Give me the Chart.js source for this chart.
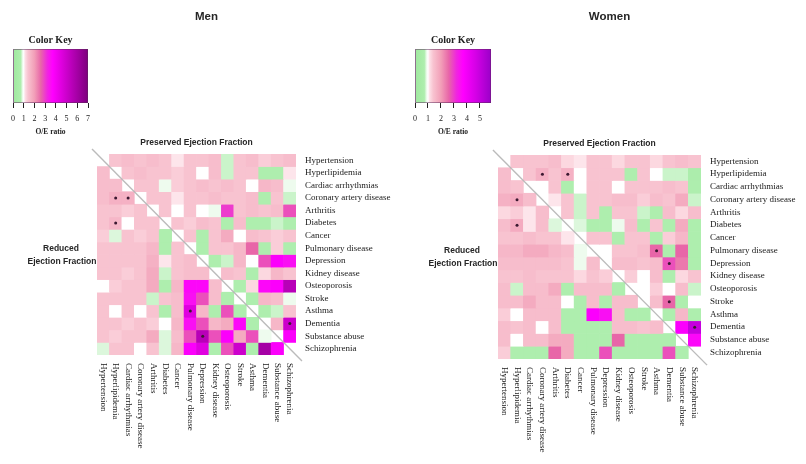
<!DOCTYPE html>
<html>
<head>
<meta charset="utf-8">
<script src="https://cdn.jsdelivr.net/npm/chart.js@4.4.1/dist/chart.umd.min.js"></script>
<style>
  html, body { margin: 0; padding: 0; background: #ffffff; }
  #wrap { position: relative; width: 806px; height: 464px; overflow: hidden; background: #fff; }
  canvas { position: absolute; }
</style>
</head>
<body>
<div id="wrap">
  <canvas id="menMap" width="403" height="464" style="left:0;top:0"></canvas>
  <canvas id="womenMap" width="403" height="464" style="left:403px;top:0"></canvas>
  <canvas id="menKey" width="110" height="110" style="left:0;top:30px"></canvas>
  <canvas id="womenKey" width="110" height="110" style="left:400px;top:30px"></canvas>
</div>
<script>
// Comorbidities, in row order (top to bottom) and column order (left to right)
const diseases = [
  'Hypertension', 'Hyperlipidemia', 'Cardiac arrhythmias', 'Coronary artery disease',
  'Arthritis', 'Diabetes', 'Cancer', 'Pulmonary disease', 'Depression', 'Kidney disease',
  'Osteoporosis', 'Stroke', 'Asthma', 'Dementia', 'Substance abuse', 'Schizophrenia'
];

// Observed/expected ratios. Above the diagonal: preserved EF; below: reduced EF.
const menOE = [
  [null, 1.4, 1.5, 1.4, 1.5, 1.4, 1.1, 1.4, 1.4, 1.5, 0.8, 1.4, 1.5, 1.3, 1.4, 1.5],
  [1.5, null, 1.4, 1.5, 1.4, 1.4, 1.3, 1.4, 1.0, 1.5, 0.8, 1.4, 1.4, 0.7, 0.7, 1.1],
  [1.5, 1.5, null, 1.4, 1.4, 0.9, 1.3, 1.4, 1.5, 1.4, 1.5, 1.4, 1.0, 1.6, 1.5, 0.9],
  [1.5, 1.7, 1.7, null, 1.4, 1.4, 1.1, 1.4, 1.4, 1.5, 1.4, 1.4, 1.5, 0.7, 1.4, 0.8],
  [1.4, 1.4, 1.3, 1.4, null, 1.4, 1.0, 1.4, 1.0, 0.9, 3.0, 1.4, 1.5, 1.4, 1.5, 2.8],
  [1.4, 1.6, 1.0, 1.4, 1.4, null, 1.4, 1.3, 1.5, 1.4, 0.7, 1.5, 0.7, 0.7, 0.8, 0.7],
  [1.3, 0.85, 1.4, 1.3, 1.4, 0.7, null, 1.4, 0.7, 1.4, 1.8, 1.0, 1.5, 1.4, 1.3, 1.4],
  [1.4, 1.4, 1.4, 1.4, 1.6, 0.7, 1.4, null, 0.7, 1.4, 1.4, 1.6, 2.6, 0.7, 1.3, 0.7],
  [1.4, 1.4, 1.4, 1.4, 1.7, 1.1, 1.4, 1.5, null, 0.7, 0.8, 1.6, 1.0, 2.8, 3.8, 3.5],
  [1.4, 1.4, 1.3, 1.4, 1.8, 0.8, 1.4, 1.5, 1.5, null, 1.5, 1.4, 0.7, 1.2, 1.6, 1.4],
  [1.0, 1.3, 1.4, 1.4, 1.8, 0.7, 1.6, 3.6, 3.6, 1.5, null, 0.7, 1.2, 3.6, 3.8, 5.5],
  [1.4, 1.4, 1.4, 1.4, 0.8, 1.4, 1.5, 3.5, 2.8, 1.5, 0.7, null, 0.7, 1.6, 1.5, 0.9],
  [1.4, 1.0, 1.4, 1.0, 1.4, 0.7, 1.5, 4.5, 1.6, 0.7, 2.8, 0.7, null, 0.7, 0.8, 1.4],
  [1.4, 1.4, 1.3, 1.4, 1.3, 1.0, 1.6, 3.5, 2.8, 1.6, 1.8, 3.6, 0.7, null, 1.6, 5.0],
  [1.4, 1.3, 1.4, 1.4, 1.8, 0.85, 1.5, 2.8, 5.5, 2.8, 3.8, 1.8, 2.8, 0.9, null, 3.8],
  [0.85, 1.4, 1.4, 1.0, 1.4, 0.85, 1.6, 3.8, 4.5, 0.7, 2.8, 5.0, 0.7, 6.0, 3.8, null]
];

const womenOE = [
  [null, 1.4, 1.4, 1.4, 1.5, 1.2, 1.1, 1.4, 1.4, 1.2, 1.4, 1.4, 1.2, 1.4, 1.5, 1.4],
  [1.5, null, 1.4, 1.7, 1.4, 1.7, 1.0, 1.4, 1.4, 1.4, 0.7, 1.4, 1.0, 0.8, 0.8, 0.6],
  [1.5, 1.4, null, 1.0, 1.4, 0.7, 1.0, 1.4, 1.4, 1.0, 1.4, 1.4, 1.4, 1.5, 1.4, 0.7],
  [1.7, 1.8, 1.5, null, 1.1, 1.4, 0.8, 1.4, 1.4, 1.5, 1.5, 1.3, 1.5, 1.4, 1.8, 0.8],
  [1.2, 1.3, 1.1, 1.5, null, 1.4, 0.8, 1.4, 0.7, 1.4, 1.4, 0.8, 0.7, 1.5, 1.2, 1.5],
  [1.5, 1.8, 1.1, 1.5, 0.85, null, 0.85, 0.7, 0.7, 0.9, 1.5, 0.7, 1.4, 0.7, 1.8, 0.7],
  [1.4, 1.4, 1.5, 1.4, 1.4, 1.1, null, 1.4, 1.4, 0.7, 1.4, 1.4, 0.7, 1.3, 1.6, 0.7],
  [1.6, 1.6, 1.8, 1.8, 1.6, 1.5, 0.9, null, 1.0, 1.4, 1.4, 1.5, 2.6, 0.7, 2.6, 0.7],
  [1.5, 1.5, 1.5, 1.5, 1.5, 1.4, 0.9, 1.5, null, 1.5, 1.5, 1.4, 1.5, 2.8, 2.4, 0.7],
  [1.4, 1.4, 1.5, 1.4, 1.4, 1.4, 1.2, 1.4, 1.3, null, 1.3, 1.0, 1.5, 0.7, 1.2, 1.4],
  [1.5, 0.8, 1.5, 1.5, 1.8, 0.7, 1.5, 1.5, 1.5, 0.7, null, 1.0, 1.3, 1.0, 1.5, 0.8],
  [1.5, 1.5, 1.8, 1.5, 1.5, 1.0, 0.7, 1.5, 0.7, 1.5, 1.5, null, 1.5, 2.6, 0.7, 1.0],
  [1.3, 1.0, 1.5, 1.5, 1.5, 0.7, 0.7, 3.8, 3.5, 1.5, 0.7, 0.7, null, 0.7, 1.6, 0.7],
  [1.5, 1.4, 1.5, 1.0, 1.5, 0.7, 0.7, 0.7, 0.7, 1.5, 1.5, 1.4, 1.5, null, 3.8, 5.0],
  [1.5, 1.0, 1.5, 1.5, 1.8, 1.8, 0.7, 0.7, 0.7, 2.6, 0.7, 0.7, 0.7, 0.7, null, 3.6],
  [1.3, 0.7, 0.7, 0.7, 2.6, 1.8, 0.7, 0.7, 2.8, 0.7, 0.7, 0.7, 0.7, 2.8, 0.7, null]
];

// Significant cells, as [row, column]
const menStars = [[3, 1], [3, 2], [5, 1], [12, 7], [13, 15], [14, 8]];
const womenStars = [[1, 3], [1, 5], [3, 1], [5, 1], [7, 12], [8, 13], [11, 13], [13, 15]];

// Colour key ranges and ticks
const menKeyTicks = [0, 1, 2, 3, 4, 5, 6, 7];
const womenKeyTicks = [0, 1, 2, 3, 4, 5];
const menKeyMax = 7;
const womenKeyMax = 5.85;

// Colour ramps: green below 1, white at 1, pink to magenta to purple above
const menRamp = [
  [0, '#9fe89f'], [0.72, '#aeeeae'], [0.9, '#eefbee'], [1.0, '#ffffff'], [1.12, '#fde0e7'],
  [1.4, '#f8c3d0'], [2.0, '#f29fb8'], [2.6, '#e866a8'], [3.2, '#f025e0'], [3.7, '#ff00ff'],
  [4.7, '#d800d8'], [7.0, '#7d007d']
];
const womenRamp = [
  [0, '#9fe89f'], [0.72, '#aeeeae'], [0.9, '#eefbee'], [1.0, '#ffffff'], [1.12, '#fde0e7'],
  [1.4, '#f8c3d0'], [2.0, '#f29fb8'], [2.6, '#e866a8'], [3.2, '#f025e0'], [3.7, '#ff00ff'],
  [4.7, '#d400e6'], [5.85, '#9a00c8']
];

function hexRgb(h) {
  const n = parseInt(h.slice(1), 16);
  return [(n >> 16) & 255, (n >> 8) & 255, n & 255];
}
function rampColor(v, ramp) {
  if (v == null) return '#ffffff';
  if (v <= ramp[0][0]) return ramp[0][1];
  for (let i = 1; i < ramp.length; i++) {
    if (v <= ramp[i][0]) {
      const [v0, c0] = ramp[i - 1], [v1, c1] = ramp[i];
      const t = (v - v0) / (v1 - v0);
      const a = hexRgb(c0), b = hexRgb(c1);
      return 'rgb(' + a.map((x, k) => Math.round(x + (b[k] - x) * t)).join(',') + ')';
    }
  }
  return ramp[ramp.length - 1][1];
}

const SERIF = '"Liberation Serif", "DejaVu Serif", serif';
const SANS = '"Liberation Sans", Arial, sans-serif';

// Labels, titles and the diagonal divider for one heatmap panel
function panelDecor(title) {
  return {
    id: 'panelDecor',
    afterDatasetsDraw(chart) {
      const { ctx, chartArea: a } = chart;
      const w = a.right - a.left, h = a.bottom - a.top;
      ctx.save();
      ctx.strokeStyle = 'rgba(180,180,180,0.9)';
      ctx.lineWidth = 1.4;
      ctx.beginPath();
      ctx.moveTo(a.left - 0.025 * w, a.top - 0.025 * h);
      ctx.lineTo(a.right + 0.03 * w, a.bottom + 0.03 * h);
      ctx.stroke();
      ctx.restore();
    },
    afterDraw(chart) {
      const { ctx, chartArea: a, scales } = chart;
      const xs = scales.x, ys = scales.y;
      ctx.save();
      ctx.fillStyle = '#1a1a1a';
      ctx.font = '9px ' + SERIF;
      ctx.textBaseline = 'middle';
      ctx.textAlign = 'left';
      diseases.forEach((name, r) => {
        ctx.fillText(name, a.right + 9, ys.getPixelForValue(r + 0.5));
      });
      diseases.forEach((name, c) => {
        ctx.save();
        ctx.translate(xs.getPixelForValue(c), a.bottom + 8);
        ctx.rotate(Math.PI / 2);
        ctx.fillText(name, 0, 0);
        ctx.restore();
      });
      const mid = (a.left + a.right) / 2;
      ctx.textAlign = 'center';
      ctx.fillStyle = '#262626';
      ctx.font = 'bold 11.5px ' + SANS;
      ctx.fillText(title, mid + 10, 17);
      ctx.font = 'bold 8.5px ' + SANS;
      ctx.fillText('Preserved Ejection Fraction', mid, a.top - 11);
      const ym = (a.top + a.bottom) / 2;
      ctx.fillText('Reduced', a.left - 36, ym - 6);
      ctx.fillText('Ejection Fraction', a.left - 35, ym + 7);
      ctx.restore();
    }
  };
}

function heatmap(id, oe, stars, ramp, title, padding) {
  const datasets = oe.map((row, r) => ({
    type: 'bar',
    data: row.map(v => (v == null ? null : [r, r + 1])),
    backgroundColor: row.map(v => rampColor(v, ramp)),
    borderWidth: 0,
    grouped: false,
    barPercentage: 1,
    categoryPercentage: 1
  }));
  datasets.push({
    type: 'line',
    data: stars.map(([r, c]) => ({ x: diseases[c], y: r + 0.5 })),
    showLine: false,
    pointRadius: 1.5,
    pointBackgroundColor: '#3b1830',
    pointBorderWidth: 0,
    order: -1
  });
  return new Chart(document.getElementById(id), {
    type: 'bar',
    data: { labels: diseases, datasets },
    options: {
      responsive: false,
      animation: false,
      layout: { padding },
      plugins: { legend: { display: false }, tooltip: { enabled: false } },
      scales: {
        x: { type: 'category', display: false, offset: true },
        y: { type: 'linear', display: false, min: 0, max: 16, reverse: true }
      }
    },
    plugins: [panelDecor(title)]
  });
}

function colorKey(id, ramp, max, ticks, padding) {
  return new Chart(document.getElementById(id), {
    type: 'bar',
    data: {
      labels: ['O/E'],
      datasets: [{
        data: [[0, max]],
        backgroundColor(ctx) {
          const ch = ctx.chart, xs = ch.scales.x;
          if (!ch.chartArea || !xs) return '#ccc';
          const g = ch.ctx.createLinearGradient(xs.getPixelForValue(0), 0, xs.getPixelForValue(max), 0);
          ramp.forEach(([v, c]) => g.addColorStop(Math.min(1, v / max), c));
          return g;
        },
        borderColor: '#5a2a5a',
        borderWidth: 0.8,
        borderSkipped: false,
        barPercentage: 1,
        categoryPercentage: 1
      }]
    },
    options: {
      indexAxis: 'y',
      responsive: false,
      animation: false,
      layout: { padding },
      plugins: { legend: { display: false }, tooltip: { enabled: false } },
      scales: {
        x: {
          type: 'linear', min: 0, max,
          afterBuildTicks(s) { s.ticks = ticks.map(v => ({ value: v })); },
          afterFit(s) { s.height = 35; },
          grid: { drawOnChartArea: false, drawTicks: true, tickLength: 5, color: '#222', lineWidth: 1 },
          border: { display: false },
          ticks: { color: '#222', font: { family: SERIF, size: 8 }, padding: 6, maxRotation: 0, autoSkip: false },
          title: { display: true, text: 'O/E ratio', color: '#222', font: { family: SERIF, size: 7.5, weight: 'bold' }, padding: { top: 0, bottom: 1 } }
        },
        y: { display: false }
      }
    },
    plugins: [{
      id: 'keyTitle',
      afterDraw(chart) {
        const { ctx, chartArea: a } = chart;
        ctx.save();
        ctx.fillStyle = '#222';
        ctx.font = 'bold 10px ' + SERIF;
        ctx.textAlign = 'center';
        ctx.textBaseline = 'middle';
        ctx.fillText('Color Key', (a.left + a.right) / 2, a.top - 9);
        ctx.restore();
      }
    }]
  });
}

heatmap('menMap', menOE, menStars, menRamp, 'Men', { left: 97, right: 107, top: 154, bottom: 109 });
heatmap('womenMap', womenOE, womenStars, womenRamp, 'Women', { left: 95, right: 105, top: 155, bottom: 105 });
colorKey('menKey', menRamp, menKeyMax, menKeyTicks, { left: 13, right: 22, top: 19, bottom: 2 });
colorKey('womenKey', womenRamp, womenKeyMax, womenKeyTicks, { left: 15, right: 19, top: 19, bottom: 2 });
</script>
</body>
</html>
